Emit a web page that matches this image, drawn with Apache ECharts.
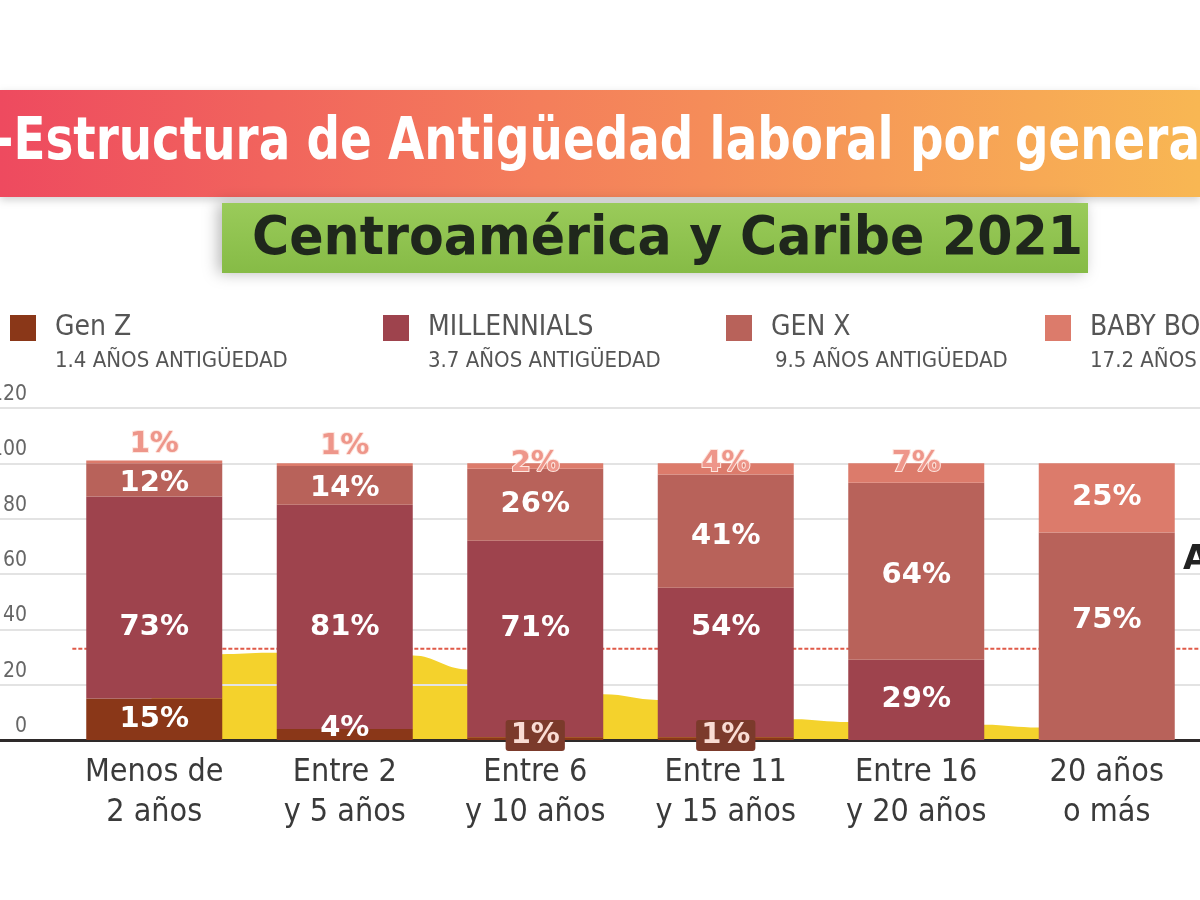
<!DOCTYPE html>
<html>
<head>
<meta charset="utf-8">
<script src="https://cdn.jsdelivr.net/npm/echarts@6/dist/echarts.min.js"></script>
<style>html,body{margin:0;padding:0;background:#fff}#c{width:1200px;height:900px}</style>
</head>
<body>
<div id="c"></div>
<script>
// ---------- data ----------
const categories = ['Menos de\n2 años', 'Entre 2\ny 5 años', 'Entre 6\ny 10 años', 'Entre 11\ny 15 años', 'Entre 16\ny 20 años', '20 años\no más'];
const seriesNames = ['Gen Z', 'MILLENNIALS', 'GEN X', 'BABY BOOMERS'];
const legendSub = ['1.4 AÑOS ANTIGÜEDAD', '3.7 AÑOS ANTIGÜEDAD', '9.5 AÑOS ANTIGÜEDAD', '17.2 AÑOS ANTIGÜEDAD'];
const genZ = [15, 4, 1, 1, 0, 0];
const millennials = [73, 81, 71, 54, 29, 0];
const genX = [12, 14, 26, 41, 64, 75];
const boomers = [1, 1, 2, 4, 7, 25];
const yMax = 120;
const yStep = 20;
// background yellow curve (position along categories, value)
const curveX = [-0.2, 0.35, 0.6, 1.36, 1.64, 2.36, 2.64, 3.36, 3.64, 4.36, 4.64, 5.1];
const curveY = [0, 31, 31.5, 30.5, 25.5, 16.5, 14.5, 7.5, 6.5, 5.5, 4.5, 0];
const avgValue = 33;
const titleText = '-Estructura de Antigüedad laboral por generación';
const subtitleText = 'Centroamérica y Caribe 2021';
const sideText = 'Antigüedad promedio';

// ---------- styles / layout ----------
const COND = "'DejaVu Sans Condensed','DejaVu Sans',sans-serif";
const colors = ['#8a3718', '#9e434d', '#b8625a', '#dc7b6b'];
const legendLeft = [10, 383, 726, 1045];
const subLeft = [55, 428, 775, 1090];
const milOffset = [30, 11, -11, -35, 0, 0];
const genXOffset = [4, 3, 0, 5, 4, -16];

function measure(text, font) {
  const c = document.createElement('canvas').getContext('2d');
  c.font = font;
  return c.measureText(text).width;
}
const titleFont = "bold 58px 'DejaVu Sans Condensed','DejaVu Sans',sans-serif";
const titleScale = 1206 / measure('-Estructura de Antigüedad laboral por genera', titleFont);
const subFont = "bold 54px 'DejaVu Sans Condensed','DejaVu Sans',sans-serif";
const subScale = 831 / measure(subtitleText, subFont);

const baseLabel = {
  show: true, position: 'inside', color: '#fff', fontFamily: 'DejaVu Sans',
  fontWeight: 'bold', fontSize: 29,
  formatter: p => (p.value > 0 ? p.value + '%' : '')
};
const pinkLabel = { color: '#ee968a', textBorderColor: '#fde6df', textBorderWidth: 2 };

const genZData = genZ.map((v, i) => {
  const d = { value: v };
  if (v === 1) d.label = { backgroundColor: '#7b3a2b', padding: [2, 5, 0, 5], borderRadius: 3, color: '#f9dcd3', offset: [0, -3] };
  else if (i === 1) d.label = { offset: [0, -6] };
  return d;
});
const milData = millennials.map((v, i) => ({ value: v, label: { offset: [0, milOffset[i]] } }));
const genXData = genX.map((v, i) => ({ value: v, label: { offset: [0, genXOffset[i]] } }));
const boomData = boomers.map(v => {
  const d = { value: v };
  if (v === 1) d.label = Object.assign({ position: 'top', distance: 2 }, pinkLabel);
  else if (v < 10) d.label = Object.assign({ position: 'top', distance: 0, offset: [0, 15] }, pinkLabel);
  return d;
});
const curveData = curveX.map((x, i) => [x, curveY[i]]);

const chart = echarts.init(document.getElementById('c'), null, { renderer: 'canvas' });

const option = {
  backgroundColor: '#fff',
  animation: false,
  grid: [
    { left: 0, right: 0, top: 408, height: 332, outerBoundsMode: 'none', containLabel: false },
    { left: 59, width: 1143, top: 408, height: 332, outerBoundsMode: 'none', containLabel: false }
  ],
  xAxis: [
    { gridIndex: 0, type: 'value', min: 0, max: 1, axisLabel: { show: false }, axisTick: { show: false }, splitLine: { show: false },
      axisLine: { show: true, onZero: false, lineStyle: { color: '#2e2a2a', width: 3 } } },
    { gridIndex: 1, type: 'category', data: categories, axisLine: { show: false }, axisTick: { show: false },
      axisLabel: { fontFamily: COND, fontSize: 32, lineHeight: 40, color: '#3a3a3a', margin: 13, interval: 0 } },
    { gridIndex: 1, type: 'value', min: -0.5, max: 5.5, show: false }
  ],
  yAxis: [
    { gridIndex: 0, type: 'value', min: 0, max: yMax, interval: yStep,
      axisLine: { show: false }, axisTick: { show: false },
      splitLine: { show: true, lineStyle: { color: '#e3e3e3', width: 2 } },
      axisLabel: { inside: true, align: 'right', margin: 27, verticalAlign: 'bottom', padding: [0, 0, 3, 0],
        fontFamily: COND, fontSize: 21, color: '#666' } },
    { gridIndex: 1, type: 'value', min: 0, max: yMax, show: false }
  ],
  legend: seriesNames.map((n, i) => ({
    data: [n], left: legendLeft[i], top: 314, itemWidth: 26, itemHeight: 26, icon: 'rect',
    selectedMode: false, padding: 0,
    textStyle: { fontFamily: COND, fontSize: 28, color: '#555', padding: [0, 0, 0, 14] }
  })),
  graphic: [
    { type: 'rect', shape: { x: 0, y: 90, width: 1200, height: 107 }, z: 0,
      style: { fill: { type: 'linear', x: 0, y: 0, x2: 1, y2: 0, colorStops: [
        { offset: 0, color: '#ee4a5f' }, { offset: 0.45, color: '#f47e5b' }, { offset: 1, color: '#f8b753' }] },
        shadowBlur: 8, shadowColor: 'rgba(0,0,0,0.18)', shadowOffsetY: 3 } },
    { type: 'text', x: -6, y: 144, scaleX: titleScale, z: 1,
      style: { text: titleText, font: titleFont, fill: '#fff', align: 'left', verticalAlign: 'middle' } },
    { type: 'rect', shape: { x: 222, y: 203, width: 866, height: 70 }, z: 0,
      style: { fill: { type: 'linear', x: 0, y: 0, x2: 0, y2: 1, colorStops: [
        { offset: 0, color: '#9acb5a' }, { offset: 1, color: '#86bb46' }] },
        shadowBlur: 14, shadowColor: 'rgba(0,0,0,0.28)', shadowOffsetX: -4 } },
    { type: 'text', x: 252, y: 240, scaleX: subScale, z: 1,
      style: { text: subtitleText, font: subFont, fill: '#1f271c', align: 'left', verticalAlign: 'middle' } },
    ...legendSub.map((t, i) => ({ type: 'text', x: subLeft[i], y: 361,
      style: { text: t, fontFamily: COND, fontSize: 22, fill: '#555', align: 'left', verticalAlign: 'middle' } })),
    { type: 'text', x: 1183, y: 560,
      style: { text: sideText, fontFamily: 'DejaVu Sans', fontWeight: 'bold', fontSize: 34, fill: '#222', align: 'left', verticalAlign: 'middle' } }
  ],
  series: [
    { type: 'line', name: 'curve', xAxisIndex: 2, yAxisIndex: 1, data: curveData, smooth: 0.4, smoothMonotone: 'x',
      symbol: 'none', lineStyle: { width: 0 }, areaStyle: { color: '#f4d22c', opacity: 1 }, z: -1, silent: true },
    { type: 'line', name: 'avg', xAxisIndex: 2, yAxisIndex: 1, data: [[-0.43, avgValue], [5.6, avgValue]],
      symbol: 'none', lineStyle: { color: '#e05a48', width: 2, type: [4, 2] }, z: 1, silent: true },
    { type: 'bar', name: seriesNames[0], xAxisIndex: 1, yAxisIndex: 1, stack: 't', barWidth: 136, data: genZData,
      itemStyle: { color: colors[0] }, label: baseLabel, z: 2 },
    { type: 'bar', name: seriesNames[1], xAxisIndex: 1, yAxisIndex: 1, stack: 't', barWidth: 136, data: milData,
      itemStyle: { color: colors[1] }, label: baseLabel, z: 2 },
    { type: 'bar', name: seriesNames[2], xAxisIndex: 1, yAxisIndex: 1, stack: 't', barWidth: 136, data: genXData,
      itemStyle: { color: colors[2] }, label: baseLabel, z: 2 },
    { type: 'bar', name: seriesNames[3], xAxisIndex: 1, yAxisIndex: 1, stack: 't', barWidth: 136, data: boomData,
      itemStyle: { color: colors[3] }, label: baseLabel, z: 2 }
  ]
};
chart.setOption(option);
</script>
</body>
</html>
